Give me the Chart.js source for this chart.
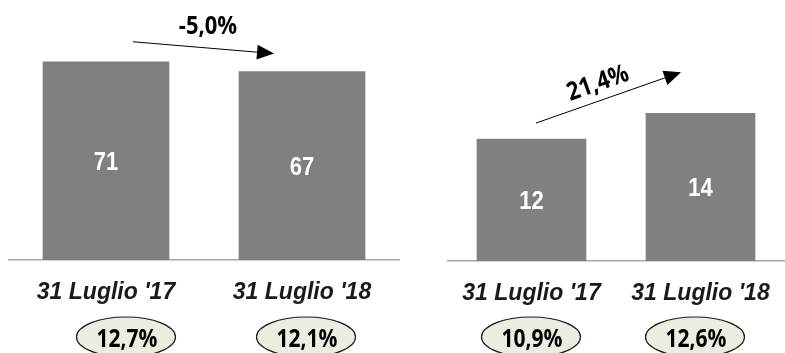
<!DOCTYPE html>
<html>
<head>
<meta charset="utf-8">
<script src="https://cdn.jsdelivr.net/npm/chart.js@4.4.1/dist/chart.umd.min.js"></script>
<style>
    body { margin: 0; background: #fff; width: 785px; height: 353px; overflow: hidden; position: relative; }
    canvas { position: absolute; top: 0; }
    #leftChart { left: 8px; }
    #rightChart { left: 447px; }
</style>
</head>
<body>
<canvas id="leftChart" width="392" height="353"></canvas>
<canvas id="rightChart" width="338" height="353"></canvas>
<script>
// Chart data
const categories = ["31 Luglio '17", "31 Luglio '18"];
const leftValues = [70.8, 67.3];   // bar labels show rounded values
const rightValues = [11.8, 14.3];
const leftChange = '-5,0%';
const rightChange = '21,4%';
const leftRatios = ['12,7%', '12,1%'];
const rightRatios = ['10,9%', '12,6%'];

const barColor = '#808080';
const noteFont = '"Open Sans", "Noto Sans", sans-serif';

// text a little taller than wide, like the original slide
function tallText(ctx, text, x, y, angle) {
    ctx.save();
    ctx.translate(x, y);
    if (angle) ctx.rotate(angle);
    ctx.scale(1, 1.15);
    ctx.fillText(text, 0, 0);
    ctx.restore();
}

// Arrow with filled head
function drawArrow(ctx, x1, y1, x2, y2) {
    const ang = Math.atan2(y2 - y1, x2 - x1);
    const head = 17, half = 7.5;
    const bx = x2 - head * Math.cos(ang);
    const by = y2 - head * Math.sin(ang);
    ctx.strokeStyle = '#000';
    ctx.fillStyle = '#000';
    ctx.lineWidth = 1;
    ctx.beginPath();
    ctx.moveTo(x1, y1);
    ctx.lineTo(bx, by);
    ctx.stroke();
    ctx.beginPath();
    ctx.moveTo(x2, y2);
    ctx.lineTo(bx + half * Math.sin(ang), by - half * Math.cos(ang));
    ctx.lineTo(bx - half * Math.sin(ang), by + half * Math.cos(ang));
    ctx.closePath();
    ctx.fill();
}

// Draws value labels, the change arrow and the ratio ellipses
const extrasPlugin = {
    id: 'extras',
    afterDatasetsDraw(chart, args, opts) {
        const ctx = chart.ctx;
        const bars = chart.getDatasetMeta(0).data;
        const values = chart.data.datasets[0].data;
        ctx.save();
        ctx.textAlign = 'center';

        // values inside bars
        ctx.fillStyle = '#fff';
        ctx.font = 'bold 22px "Liberation Sans", Arial, sans-serif';
        ctx.textBaseline = 'middle';
        bars.forEach((bar, i) => {
            tallText(ctx, Math.round(values[i]), bar.x, (bar.y + bar.base) / 2 + 2);
        });

        // change arrow
        const b1 = bars[0], b2 = bars[1];
        const x1 = b1.x + opts.from[0], y1 = b1.y + opts.from[1];
        const x2 = b2.x + opts.to[0], y2 = b2.y + opts.to[1];
        drawArrow(ctx, x1, y1, x2, y2);
        const mx = (x1 + x2) / 2 + opts.textShift[0];
        const my = (y1 + y2) / 2 + opts.textShift[1];
        ctx.fillStyle = '#000';
        ctx.font = 'bold 22px ' + noteFont;
        tallText(ctx, opts.change, mx, my, opts.rotate ? Math.atan2(y2 - y1, x2 - x1) : 0);

        // ratio ellipses
        bars.forEach((bar, i) => {
            const cx = bar.x + opts.ellipseShift[i];
            ctx.beginPath();
            ctx.ellipse(cx, 337, 49.5, 20, 0, 0, Math.PI * 2);
            ctx.fillStyle = '#EEECE1';
            ctx.fill();
            ctx.strokeStyle = '#1a1a1a';
            ctx.lineWidth = 1.2;
            ctx.stroke();
            ctx.fillStyle = '#000';
            ctx.font = 'bold 21px ' + noteFont;
            ctx.textBaseline = 'alphabetic';
            tallText(ctx, opts.ratios[i], cx + 1, 347);
            ctx.textBaseline = 'middle';
        });
        ctx.restore();
    }
};

function makeChart(id, values, yMax, topPad, axisHeight, barWidth, extras) {
    return new Chart(document.getElementById(id), {
        type: 'bar',
        data: {
            labels: categories,
            datasets: [{
                data: values,
                backgroundColor: barColor,
                barThickness: barWidth
            }]
        },
        options: {
            responsive: false,
            animation: false,
            layout: { padding: { top: topPad, left: 0, right: 0, bottom: 0 } },
            plugins: {
                legend: { display: false },
                tooltip: { enabled: false },
                extras: extras
            },
            scales: {
                x: {
                    grid: { display: false },
                    border: { display: true, color: '#a6a6a6', width: 1.5 },
                    ticks: {
                        color: '#1a1a1a',
                        padding: 11,
                        font: { family: '"Liberation Sans", Arial, sans-serif', size: 23, weight: 'bold', style: 'italic' }
                    },
                    afterFit: function (scale) { scale.height = axisHeight; }
                },
                y: {
                    display: false,
                    min: 0,
                    max: yMax
                }
            }
        },
        plugins: [extrasPlugin]
    });
}

makeChart('leftChart', leftValues, 90, 8, 93, 126, {
    change: leftChange,
    ratios: leftRatios,
    rotate: false,
    from: [27, -20],
    to: [-28, -18],
    textShift: [4.5, -21],
    ellipseShift: [20, 4]
});

makeChart('rightChart', rightValues, 24, 13, 92, 109, {
    change: rightChange,
    ratios: rightRatios,
    rotate: true,
    from: [4.5, -16],
    to: [-19.5, -41],
    textShift: [-10.5, -14],
    ellipseShift: [-0.5, -5.5]
});
</script>
</body>
</html>
